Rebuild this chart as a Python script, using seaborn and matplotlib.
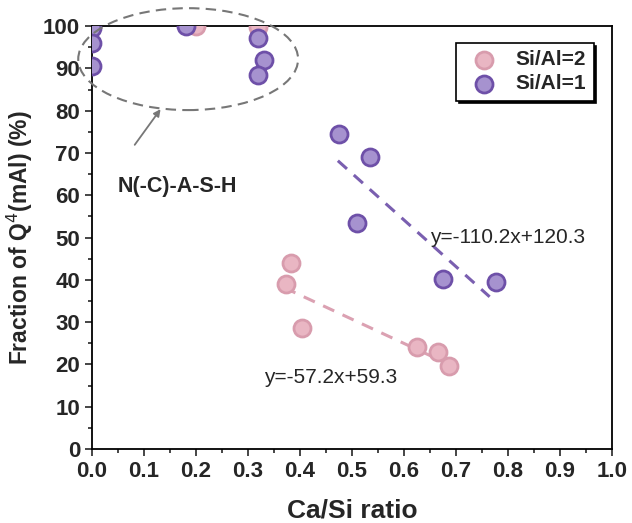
import numpy as np
import pandas as pd
import matplotlib.pyplot as plt
import seaborn as sns
from matplotlib.patches import Ellipse

# === Data ===
ca_si_1 = [0.0, 0.0, 0.0, 0.18, 0.32, 0.33, 0.32, 0.475, 0.535, 0.51, 0.675, 0.777]
q4_1 = [99.5, 96.0, 90.5, 100.0, 97.3, 92.0, 88.4, 74.5, 69.0, 53.4, 40.2, 39.5]
ca_si_2 = [0.2, 0.32, 0.383, 0.373, 0.404, 0.625, 0.665, 0.687]
q4_2 = [100.0, 99.8, 44.0, 39.0, 28.6, 24.1, 22.9, 19.6]

fit_slope = {"Si/Al=1": -110.2, "Si/Al=2": -57.2}
fit_intercept = {"Si/Al=1": 120.3, "Si/Al=2": 59.3}
fit_range = {"Si/Al=1": (0.473, 0.765), "Si/Al=2": (0.37, 0.68)}

df = pd.DataFrame({
    "ca_si": ca_si_2 + ca_si_1,
    "q4": q4_2 + q4_1,
    "group": ["Si/Al=2"] * len(ca_si_2) + ["Si/Al=1"] * len(ca_si_1),
})

face = {"Si/Al=2": "#e9b6c3", "Si/Al=1": "#a692cf"}
edge = {"Si/Al=2": "#d89cad", "Si/Al=1": "#6e50a8"}
line_col = {"Si/Al=2": "#dba1b2", "Si/Al=1": "#7a5fb0"}

# === Setup ===
sns.set_style("ticks")
plt.rcParams["font.family"] = ["Liberation Sans", "DejaVu Sans"]

fig = plt.figure(figsize=(6.32, 5.23), dpi=100)
ax = fig.add_axes([0.1456, 0.1415, 0.8224, 0.8085])

for g in ["Si/Al=2", "Si/Al=1"]:
    sub = df[df["group"] == g]
    sns.scatterplot(data=sub, x="ca_si", y="q4", ax=ax, s=150, color=face[g],
                    edgecolor=edge[g], linewidth=2, label=g, zorder=3)

# fit lines
for g in ["Si/Al=2", "Si/Al=1"]:
    xs = np.linspace(*fit_range[g], 20)
    ax.plot(xs, fit_slope[g] * xs + fit_intercept[g], ls=(0, (4, 3)), lw=2.2,
            color=line_col[g], zorder=2)

ax.text(0.80, 50, "y=-110.2x+120.3", fontsize=15, ha="center", va="center")
ax.text(0.46, 17, "y=-57.2x+59.3", fontsize=15, ha="center", va="center")

# region marker
ell = Ellipse((0.185, 92.2), 0.423, 24.1, fill=False, ls=(0, (5, 3)), lw=1.5,
              edgecolor="#777777", clip_on=False, zorder=4)
ax.add_patch(ell)
ax.annotate("", xy=(0.135, 80.9), xytext=(0.079, 71.4),
            arrowprops=dict(arrowstyle="-|>", color="#777777", lw=1.3))
ax.text(0.165, 62, "N(-C)-A-S-H", fontsize=15.5, fontweight="bold",
        ha="center", va="center")

# === Axes ===
ax.set_xlim(0, 1.0)
ax.set_ylim(0, 100)
ax.set_xticks(np.arange(0, 1.01, 0.1))
ax.set_xticks(np.arange(0.05, 1.0, 0.1), minor=True)
ax.set_yticks(np.arange(0, 101, 10))
ax.set_yticks(np.arange(5, 100, 10), minor=True)
ax.tick_params(which="major", length=5, width=1.2, labelsize=16)
ax.tick_params(which="minor", length=3, width=1.2)
for lab in ax.get_xticklabels() + ax.get_yticklabels():
    lab.set_fontweight("bold")
for sp in ax.spines.values():
    sp.set_visible(True)
    sp.set_linewidth(1.3)
    sp.set_color("black")

ax.set_xlabel("Ca/Si ratio", fontsize=19, fontweight="bold", labelpad=12)
ax.set_ylabel("Fraction of Q$^4$(mAl) (%)", fontsize=16.5, fontweight="bold", labelpad=6)

leg = ax.legend(loc="upper right", bbox_to_anchor=(0.985, 0.985), fontsize=15,
                frameon=True, fancybox=False, shadow={"color": "black", "alpha": 1},
                handletextpad=0.5, borderpad=0.35, labelspacing=0.25)
leg.get_frame().set_edgecolor("black")
leg.get_frame().set_linewidth(1.2)
for t in leg.get_texts():
    t.set_fontweight("bold")

fig.savefig("out.png", dpi=100)
plt.close()
